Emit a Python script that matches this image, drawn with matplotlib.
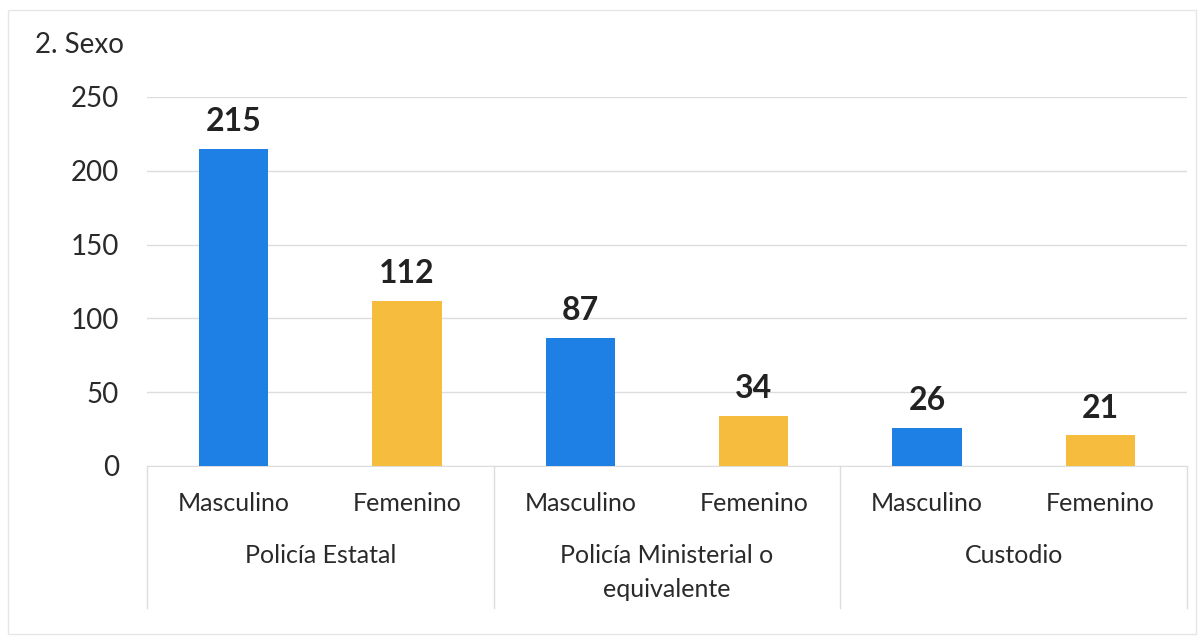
import matplotlib
matplotlib.use("Agg")
import matplotlib.pyplot as plt
from matplotlib.patches import Rectangle

plt.rcParams['font.family'] = ['Lato', 'DejaVu Sans']

# data
groups = ["Policía Estatal", "Policía Ministerial o\nequivalente", "Custodio"]
sexes = ["Masculino", "Femenino"]
values = [215, 112, 87, 34, 26, 21]
colors = ["#1E80E4", "#F6BC3E"]

fig = plt.figure(figsize=(12.04, 6.44), dpi=100)
ax = fig.add_axes([0.122, 0.2764, 0.864, 0.573])

x = list(range(len(values)))
bar_colors = [colors[i % 2] for i in x]
bars = ax.bar(x, values, width=0.4, color=bar_colors, zorder=3)

for b, v in zip(bars, values):
    ax.annotate(str(v), (b.get_x() + b.get_width() / 2, v), xytext=(0, 9),
                textcoords="offset points", ha="center", va="bottom",
                fontsize=23, fontweight="bold", color="#222222")

ax.set_xlim(-0.5, len(values) - 0.5)
ax.set_ylim(0, 250)
ax.set_yticks(range(0, 251, 50))
ax.tick_params(axis="y", length=0, labelsize=20, labelcolor="#2a2a2a", pad=20)
ax.grid(axis="y", color="#dddddd", linewidth=1, zorder=0)

for s in ["top", "right", "left"]:
    ax.spines[s].set_visible(False)
ax.spines["bottom"].set_color("#dddddd")

ax.set_xticks(x)
ax.set_xticklabels([sexes[i % 2] for i in x], fontsize=18, color="#2a2a2a")
ax.tick_params(axis="x", length=0, pad=19)

# group labels and separators below the axis
sep_bottom = -(608 - 466) / 369
for gi, g in enumerate(groups):
    ax.text(gi * 2 + 0.5, -78 / 369, g, transform=ax.get_xaxis_transform(),
            ha="center", va="top", fontsize=18, color="#2a2a2a",
            linespacing=1.6)
for xs in [-0.5, 1.5, 3.5, 5.5]:
    ax.plot([xs, xs], [0, sep_bottom], transform=ax.get_xaxis_transform(),
            color="#dddddd", linewidth=1, clip_on=False)

fig.text(35 / 1204, 1 - 45 / 644, "2. Sexo", fontsize=20, color="#2a2a2a",
         ha="left", va="center")

fig.patches.append(Rectangle((8 / 1204, 10 / 644), 1 - 16 / 1204, 1 - 20 / 644,
                             transform=fig.transFigure, fill=False,
                             edgecolor="#e6e6e6", linewidth=1))

fig.savefig("out.png", dpi=100)
